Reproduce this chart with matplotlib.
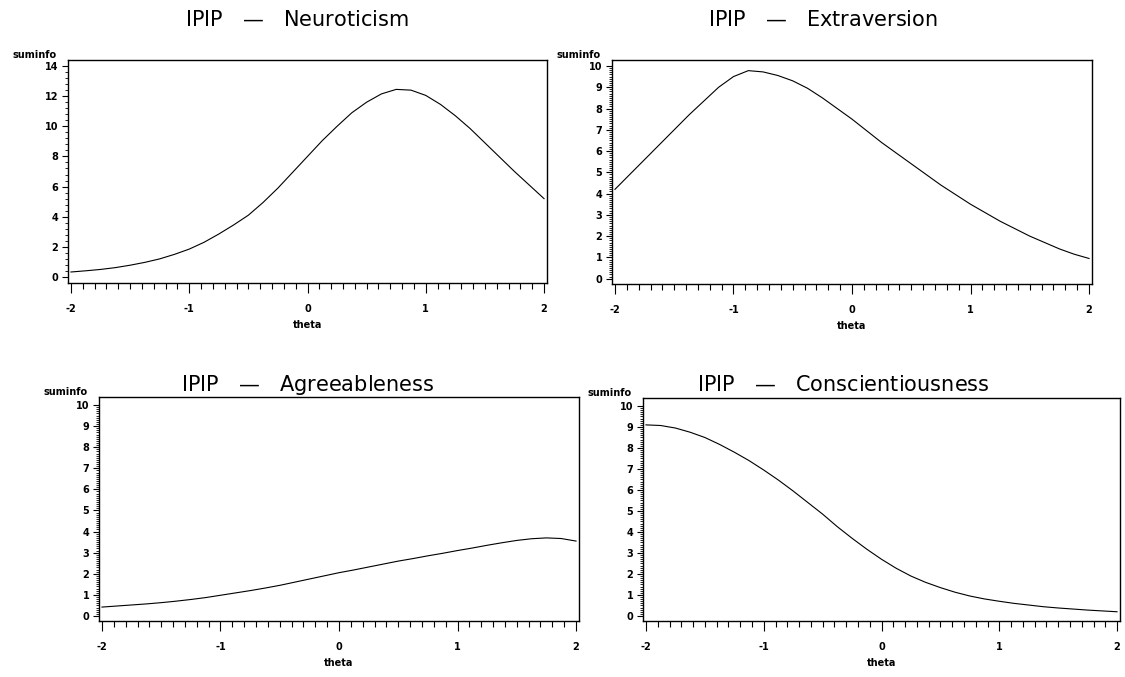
import matplotlib
matplotlib.use("Agg")
import matplotlib.pyplot as plt
import numpy as np
from matplotlib.ticker import FixedLocator

# ---------------- data ----------------
theta = [-2.0, -1.875, -1.75, -1.625, -1.5, -1.375, -1.25, -1.125, -1.0,
         -0.875, -0.75, -0.625, -0.5, -0.375, -0.25, -0.125, 0.0,
         0.125, 0.25, 0.375, 0.5, 0.625, 0.75, 0.875, 1.0,
         1.125, 1.25, 1.375, 1.5, 1.625, 1.75, 1.875, 2.0]

neuroticism = [0.33, 0.41, 0.5, 0.62, 0.78, 0.97, 1.2, 1.5, 1.85,
               2.3, 2.85, 3.45, 4.1, 4.95, 5.9, 6.95, 8.0,
               9.05, 10.0, 10.9, 11.6, 12.15, 12.45, 12.4, 12.05,
               11.45, 10.7, 9.85, 8.9, 7.95, 7.0, 6.1, 5.2]
extraversion = [4.2, 4.9, 5.6, 6.3, 7.0, 7.7, 8.35, 9.0, 9.5,
                9.78, 9.72, 9.55, 9.3, 8.95, 8.5, 8.0, 7.5,
                6.95, 6.4, 5.9, 5.4, 4.9, 4.4, 3.95, 3.5,
                3.1, 2.7, 2.35, 2.0, 1.7, 1.4, 1.15, 0.95]
agreeableness = [0.42, 0.47, 0.52, 0.57, 0.63, 0.7, 0.78, 0.87, 0.98,
                 1.09, 1.2, 1.32, 1.45, 1.6, 1.75, 1.9, 2.05,
                 2.18, 2.32, 2.46, 2.6, 2.72, 2.85, 2.97, 3.1,
                 3.22, 3.35, 3.47, 3.58, 3.66, 3.7, 3.67, 3.55]
conscientiousness = [9.1, 9.07, 8.95, 8.75, 8.5, 8.17, 7.8, 7.4, 6.95,
                     6.47, 5.95, 5.4, 4.85, 4.25, 3.7, 3.18, 2.7,
                     2.27, 1.9, 1.6, 1.35, 1.13, 0.95, 0.81, 0.7,
                     0.6, 0.52, 0.44, 0.38, 0.33, 0.28, 0.24, 0.2]

titles = ["Neuroticism", "Extraversion", "Agreeableness", "Conscientiousness"]
x_ticks = [-2, -1, 0, 1, 2]
x_ticklabels = ["-2", "-1", "0", "1", "2"]

W, H = 1125, 677

# panel frames in pixels: left, right, top, bottom
frames = [(68, 547, 60, 283), (612, 1092, 60, 284),
          (99, 579, 397, 621), (643, 1120, 398, 621)]
title_pos = [(297, 20), (823, 20), (308, 385), (843, 385)]


def make_axes(fig, frame):
    l, r, t, b = frame
    return fig.add_axes([l / W, 1 - b / H, (r - l) / W, (b - t) / H])


def style_axes(ax, ymax, ymajor, yminor, ylim):
    ax.set_xlim(-2.025, 2.025)
    ax.set_ylim(*ylim)
    ax.xaxis.set_major_locator(FixedLocator(x_ticks))
    ax.set_xticklabels(x_ticklabels)
    ax.xaxis.set_minor_locator(FixedLocator(np.arange(-2, 2.001, 0.1)))
    ax.yaxis.set_major_locator(FixedLocator(np.arange(0, ymax + 0.001, ymajor)))
    ax.yaxis.set_minor_locator(FixedLocator(np.arange(0, ymax + 0.001, yminor)))
    ax.yaxis.set_major_formatter(plt.FuncFormatter(lambda v, p: f"{v:g}"))
    ax.tick_params(axis="x", which="major", direction="out", length=7, width=0.8, pad=8)
    ax.tick_params(axis="x", which="minor", direction="out", length=4, width=0.8)
    ax.tick_params(axis="y", which="major", direction="out", length=4, width=0.8, pad=3)
    ax.tick_params(axis="y", which="minor", direction="out", length=2.5, width=0.6)
    for lab in ax.get_xticklabels() + ax.get_yticklabels():
        lab.set_fontsize(7)
        lab.set_fontweight("bold")
        lab.set_family("DejaVu Sans")
    for sp in ax.spines.values():
        sp.set_linewidth(1.0)
        sp.set_color("black")
    ax.annotate("suminfo", xy=(0, 1), xycoords="axes fraction",
                xytext=(-8, 0), textcoords="offset points",
                ha="right", va="bottom", fontsize=7, fontweight="bold",
                family="DejaVu Sans")
    ax.annotate("theta", xy=(0.5, 0), xycoords="axes fraction",
                xytext=(0, -30), textcoords="offset points",
                ha="center", va="center", fontsize=7, fontweight="bold",
                family="DejaVu Sans")


def draw_title(fig, x, y, name):
    # "IPIP  —  name": dash drawn bold, centred on the whole string
    txt = fig.text(x / W, 1 - y / H,
                   "IPIP   " + r"$\mathbf{—}$" + "   " + name,
                   ha="center", va="center", fontsize=15, family="DejaVu Sans")
    return txt


plt.rcParams["mathtext.fontset"] = "dejavusans"
fig = plt.figure(figsize=(W / 100, H / 100), dpi=100)

series = [neuroticism, extraversion, agreeableness, conscientiousness]
settings = [(14, 2, 0.4, (-0.4, 14.4)),
            (10, 1, 0.1, (-0.25, 10.28)),
            (10, 1, 0.1, (-0.24, 10.38)),
            (10, 1, 0.1, (-0.24, 10.38))]

for frame, ys, (ymax, ymaj, ymin, ylim), title, (tx, ty) in zip(
        frames, series, settings, titles, title_pos):
    ax = make_axes(fig, frame)
    ax.plot(theta, ys, color="black", lw=0.8)
    style_axes(ax, ymax, ymaj, ymin, ylim)
    draw_title(fig, tx, ty, title)

fig.savefig("out.png", dpi=100)
